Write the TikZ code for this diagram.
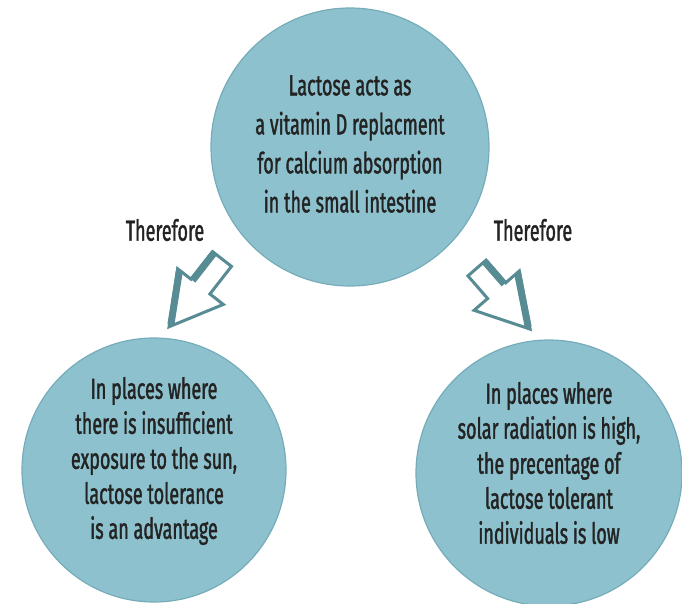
\documentclass[tikz,border=0pt]{standalone}
\usepackage{fontspec}
\setmainfont[FakeStretch=0.62,FakeBold=1.3]{Fira Sans}
\definecolor{bubblefill}{RGB}{141,193,205}
\definecolor{bubbleedge}{RGB}{118,172,186}
\definecolor{arrowcol}{RGB}{88,140,149}
\definecolor{textcol}{RGB}{35,35,35}
\tikzset{
  bubble/.style={circle, fill=bubblefill, draw=bubbleedge, line width=1.2pt, inner sep=0pt, minimum size=#1},
  bubbletext/.style={text=textcol, align=center, inner sep=0pt, font=\fontsize{29}{#1}\selectfont},
  labeltext/.style={text=textcol, inner sep=0pt, font=\fontsize{29}{30}\selectfont},
  arrowline/.style={draw=arrowcol, line width=3pt, line join=miter, fill=white},
  arrowthick/.style={draw=arrowcol, line width=7pt, line join=miter, line cap=butt},
  pics/hollowarrow/.style n args={3}{code={
    \draw[arrowline] (0,12) -- (#2,12) -- (#2,#3) -- (#1,0) -- (#2,-#3) -- (#2,-12) -- (0,-12) -- cycle;
    \draw[arrowthick] (1,10) -- (#2,10);
    \draw[arrowthick] (#2+1,#3-3) -- (#1-3,0);
  }}
}
\begin{document}
\begin{tikzpicture}[x=1pt,y=-1pt]
\useasboundingbox (0,0) rectangle (682,603);
\node[bubble=278pt] (top) at (350,147) {};
\node[bubble=264pt] (left) at (154,470) {};
\node[bubble=266pt] (right) at (549,473) {};
\node[bubbletext=39] (toptext) at (350,144) {Lactose acts as\\a vitamin D replacment\\for calcium absorption\\in the small intestine};
\node[bubbletext=35] (lefttext) at (154,461) {In places where\\there is insufficient\\exposure to the sun,\\lactose tolerance\\is an advantage};
\node[bubbletext=35] (righttext) at (549,463) {In places where\\solar radiation is high,\\the precentage of\\lactose tolerant\\individuals is low};
\node[labeltext] (thereL) at (165,230) {Therefore};
\node[labeltext] (thereR) at (533,230) {Therefore};
\pic[rotate=232] at (222,259) {hollowarrow={86}{35}{29}};
\pic[rotate=-49, yscale=-1] at (477,268) {hollowarrow={81}{30}{30}};
\end{tikzpicture}
\end{document}
